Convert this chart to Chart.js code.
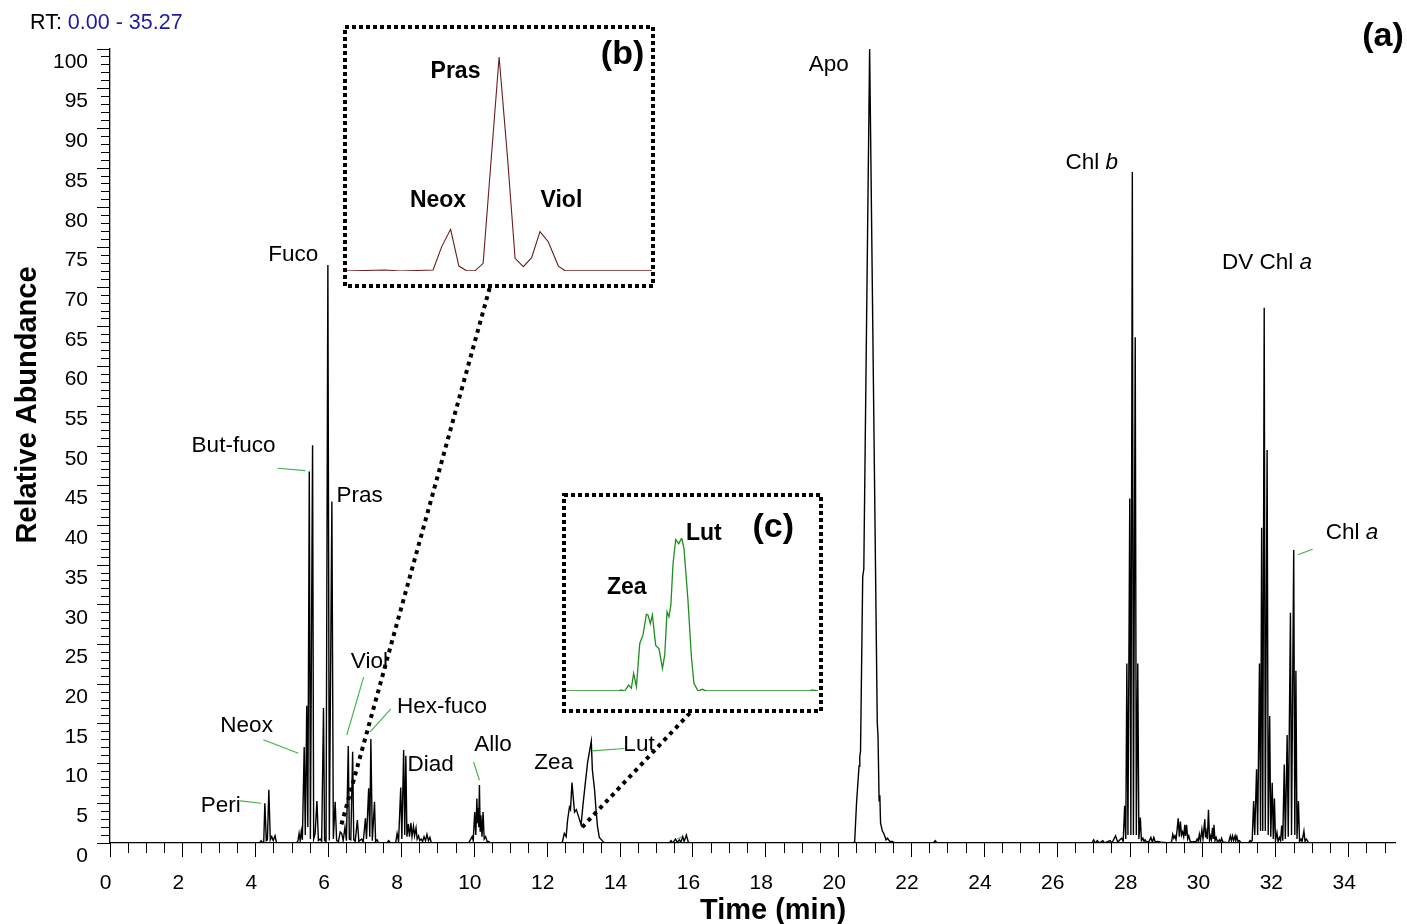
<!DOCTYPE html>
<html><head><meta charset="utf-8">
<script src="https://cdn.jsdelivr.net/npm/chart.js@4.4.1/dist/chart.umd.min.js"></script>
<style>
html,body{margin:0;padding:0;background:#fff;}
#wrap{position:relative;width:1407px;height:924px;overflow:hidden;background:#fff;}
canvas{position:absolute;}
</style></head><body>
<div id="wrap">
<canvas id="main" width="1407" height="924" style="left:0;top:0"></canvas>
<canvas id="insetB"></canvas>
<canvas id="insetC"></canvas>
</div>
<script>
// ---------------- DATA ----------------
// Main chromatogram: [retention time (min), relative abundance (%)]
const segLeadIn = [[0,0],[4.10,0],[4.15,0.3],[4.19,0]];
const segPeri = [[4.22,0.2],[4.25,5.0],[4.29,0.3],[4.32,0.4],[4.36,6.7],[4.40,0.4],[4.44,0.8],[4.48,0.3],[4.53,0.9],[4.57,0],[5.12,0]];
const segNeoxFucoPras = [[5.16,0.3],[5.19,1.2],[5.22,0.3],[5.25,1.5],[5.28,0.4],[5.33,12.1],[5.36,1.0],[5.40,17.3],[5.43,2.0],[5.47,46.8],[5.50,0.5],[5.56,50.1],[5.59,0.5],[5.63,1.2],[5.68,5.3],[5.72,0.3],[5.77,0.5],[5.81,0.2],[5.86,17.0],[5.89,0.3],[5.93,0.2],[5.98,72.8],[6.02,0.3],[6.09,43.0],[6.13,0.5],[6.18,5.2],[6.22,0.3],[6.27,0.2],[6.32,1.4],[6.36,1.2],[6.40,0.3],[6.45,2.0],[6.49,0.3]];
const segViolHex = [[6.54,12.2],[6.57,0.5],[6.61,0.4],[6.66,11.5],[6.69,0.4],[6.73,0.2],[6.79,2.9],[6.83,0.2],[6.91,0.5],[6.95,0.1],[7.01,3.1],[7.04,0.5],[7.10,6.9],[7.13,0.8],[7.16,13.1],[7.20,0.3],[7.26,5.2],[7.29,0.2],[7.33,0.4],[7.37,0],[7.60,0],[7.65,0.3],[7.70,0]];
const segDiad = [[7.84,0],[7.88,1.2],[7.92,0.2],[7.98,7.0],[8.01,0.5],[8.06,11.7],[8.09,1.0],[8.12,11.0],[8.15,0.8],[8.19,2.4],[8.22,0.8],[8.26,2.5],[8.29,0.8],[8.33,2.1],[8.36,0.9],[8.40,1.9],[8.43,0.5],[8.47,0.9],[8.50,0.3],[8.54,0.5],[8.58,0.2],[8.62,0.8],[8.66,0.3],[8.70,1.1],[8.74,0.3],[8.78,0.7],[8.82,0],[9.84,0]];
const segAllo = [[9.88,0.3],[9.94,0.8],[9.97,0.3],[10.01,3.9],[10.04,1.0],[10.07,5.6],[10.09,2.5],[10.11,4.4],[10.12,2.0],[10.14,7.3],[10.16,1.5],[10.18,3.5],[10.21,0.8],[10.24,3.9],[10.27,0.5],[10.31,0.8],[10.35,0.2],[10.39,0.2],[10.45,0],[12.38,0]];
const segZeaLut = [[12.41,0],[12.47,1.2],[12.52,0.8],[12.56,2.9],[12.61,4.5],[12.64,4.2],[12.68,7.6],[12.75,3.9],[12.80,4.2],[12.87,3.2],[12.93,2.3],[12.98,4.7],[13.05,7.7],[13.11,10.2],[13.16,11.5],[13.21,12.8],[13.24,9.2],[13.30,6.7],[13.34,4.2],[13.38,2.1],[13.43,0.7],[13.51,0.3],[13.57,0],[15.35,0]];
const segMinor16 = [[15.40,0.3],[15.45,0],[15.52,0.5],[15.57,0.1],[15.63,0.4],[15.67,0.1],[15.72,0.8],[15.76,0.2],[15.82,1.0],[15.88,0],[20.40,0]];
const segApo = [[20.44,0.2],[20.49,5.0],[20.56,9.7],[20.58,10.9],[20.60,11.5],[20.66,33.5],[20.69,34.5],[20.85,100],[21.06,15.1],[21.08,13.5],[21.11,5.3],[21.13,6.0],[21.15,2.5],[21.20,1.5],[21.24,1.2],[21.30,0.4],[21.34,0.6],[21.40,0.2],[21.47,0.2],[21.55,0],[22.60,0],[22.65,0.3],[22.70,0],[26.95,0]];
const segChlb = [[27.00,0.4],[27.04,0],[27.10,0.3],[27.15,0],[27.25,0.3],[27.30,0],[27.45,0.3],[27.50,0],[27.60,0.9],[27.66,0.1],[27.72,0.4],[27.77,0.6],[27.81,0.2],[27.85,4.7],[27.88,0.5],[27.91,22.6],[27.94,1.0],[27.99,43.4],[28.02,1.0],[28.06,84.5],[28.09,1.0],[28.14,63.7],[28.17,1.0],[28.21,22.6],[28.24,0.5],[28.28,3.2],[28.31,0.3],[28.35,0.6],[28.38,0.2],[28.41,0.4],[28.45,0.1],[28.52,0.2],[28.57,0.7],[28.61,0.1],[28.65,0.7],[28.69,0.1],[28.75,0.2],[28.85,0.1],[29.10,0]];
const segMid29to31 = [[29.14,0.2],[29.17,1.1],[29.20,0.6],[29.23,0.9],[29.26,0.4],[29.32,3.1],[29.35,0.8],[29.38,2.7],[29.41,1.0],[29.44,1.4],[29.47,0.8],[29.50,2.3],[29.52,0.9],[29.55,2.3],[29.58,0.5],[29.61,0.9],[29.65,0.2],[29.70,0.1],[29.75,0.2],[29.80,0.1],[29.84,0.5],[29.87,0.2],[29.90,1.1],[29.93,0.3],[29.97,1.7],[30.00,0.5],[30.05,3.0],[30.07,0.7],[30.09,1.4],[30.12,0.5],[30.15,4.2],[30.18,0.4],[30.20,0.9],[30.23,0.4],[30.26,1.9],[30.28,0.6],[30.30,2.3],[30.33,0.3],[30.36,0.7],[30.40,0.1],[30.45,0.4],[30.48,0.1],[30.51,0.6],[30.55,0.1],[30.60,0.1],[30.70,0],[30.75,0.9],[30.78,0.3],[30.81,0.9],[30.84,0.3],[30.88,0.9],[30.90,0.3],[30.93,0.8],[30.96,0.2],[31.00,0.3],[31.05,0],[31.25,0]];
const segDVChlaChla = [[31.29,0.3],[31.32,0.2],[31.35,0.3],[31.39,5.3],[31.42,1.0],[31.47,9.3],[31.50,1.0],[31.55,22.6],[31.58,1.5],[31.61,39.7],[31.64,1.5],[31.68,67.4],[31.71,1.5],[31.76,49.5],[31.79,1.0],[31.83,16.0],[31.86,0.8],[31.90,7.6],[31.93,0.5],[31.96,5.6],[31.99,0.3],[32.03,1.3],[32.06,0.2],[32.10,0.7],[32.13,0.3],[32.16,2.2],[32.19,0.3],[32.23,9.9],[32.26,0.5],[32.31,13.6],[32.34,0.8],[32.40,29.0],[32.43,1.0],[32.49,36.9],[32.52,1.0],[32.55,21.7],[32.58,0.5],[32.62,5.3],[32.65,0.2],[32.69,0.5],[32.72,0.2],[32.77,1.5],[32.80,0.2],[32.84,0.5],[32.90,0],[35.27,0]];

// Inset (b): expanded trace around Neox / Pras / Viol
const insetBTime   = [6.000,6.130,6.179,6.287,6.315,6.344,6.371,6.396,6.423,6.450,6.477,6.502,6.530,6.554,6.581,6.608,6.635,6.662,6.695,6.717,7.000];
const insetBSignal = [0,0.5,0,0.5,11.4,19.5,2.3,0.1,0.1,3.6,53.7,100,51.9,5.9,2.0,6.2,18.4,13.7,2.3,0.1,0.1];
// Inset (c): expanded trace around Zea / Lut
const insetCTime   = [12.000,12.431,12.458,12.484,12.515,12.536,12.554,12.576,12.602,12.627,12.654,12.667,12.685,12.701,12.727,12.753,12.780,12.798,12.816,12.831,12.846,12.863,12.884,12.908,12.931,12.949,12.980,13.007,13.027,13.059,13.093,13.125,13.935,13.953,14.000];
const insetCSignal = [0,0,0.7,0,3.9,1.8,11.5,2.8,31.1,36.5,50.2,49.6,44.1,49.6,29.8,27.6,14.8,23.5,51.7,48.5,56.1,83.3,99.0,96.3,100,93.1,59.4,22.4,5.0,0,1.1,0,0,0.7,0];

// Axis ranges & tick labels
const rtRange = [0, 35.27];
const abundanceRange = [0, 100];
const xTickLabels = [0,2,4,6,8,10,12,14,16,18,20,22,24,26,28,30,32,34];
const yTickLabels = [0,5,10,15,20,25,30,35,40,45,50,55,60,65,70,75,80,85,90,95,100];
const xMinorStep = 0.5, yMinorStep = 1;

// Peak labels (text parts: [string, italic?]) anchored at (time, abundance)
const peakLabels = [
  {parts:[['Apo',false]], t:19.73, v:98.0},
  {parts:[['Chl ',false],['b',true]], t:26.95, v:85.7},
  {parts:[['DV Chl ',false],['a',true]], t:31.76, v:73.1},
  {parts:[['Chl ',false],['a',true]], t:34.09, v:39.1},
  {parts:[['Fuco',false]], t:5.03, v:74.1},
  {parts:[['But-fuco',false]], t:3.39, v:50.0},
  {parts:[['Pras',false]], t:6.85, v:43.7},
  {parts:[['Viol',false]], t:7.12, v:22.8},
  {parts:[['Hex-fuco',false]], t:9.11, v:17.2},
  {parts:[['Neox',false]], t:3.75, v:14.8},
  {parts:[['Peri',false]], t:3.04, v:4.7},
  {parts:[['Diad',false]], t:8.80, v:9.8},
  {parts:[['Allo',false]], t:10.51, v:12.4},
  {parts:[['Zea',false]], t:12.18, v:10.1},
  {parts:[['Lut',false]], t:14.52, v:12.4}
];
// Green leader lines [t1,v1,t2,v2]
const leaders = [
  [3.57,5.3,4.15,5.0],[4.21,13.0,5.17,11.3],[4.61,47.2,5.36,46.9],[6.96,20.9,6.50,13.6],
  [7.71,16.9,7.14,14.0],[9.98,10.2,10.14,7.9],[13.23,11.6,14.12,11.9],[15.57,0.5,15.70,0.8],
  [32.60,36.3,33.01,37.0]
];

// ---------------- LAYOUT / STYLE ----------------
const FONT = '"Liberation Sans", Arial, Helvetica, sans-serif';
const GREEN = '#3fb24a';
const boxB = {left:343, top:25, w:312, h:263, pad:{left:2, right:3, top:32, bottom:17}};
const boxC = {left:562, top:493, w:261, h:220, pad:{left:1, right:5, top:45, bottom:22}};
// connectors: inset anchor (fraction of box width at bottom) -> data point
const connectors = [
  {box:boxB, fx:0.47, t:6.32, v:1.8},
  {box:boxC, fx:0.49, t:12.96, v:2.0}
];

function stepTicks(min, max, step){ const out=[]; for(let v=min; v<=max+1e-9; v+=step) out.push({value:Math.round(v*1000)/1000}); return out; }

function drawParts(ctx, parts, cx, cy, size, bold){
  let total = 0;
  const widths = parts.map(([s,it])=>{ ctx.font = `${it?'italic ':''}${bold?'bold ':''}${size}px ${FONT}`; const w = ctx.measureText(s).width; total += w; return w; });
  let x = cx - total/2;
  parts.forEach(([s,it],i)=>{ ctx.font = `${it?'italic ':''}${bold?'bold ':''}${size}px ${FONT}`; ctx.textAlign='left'; ctx.fillText(s, x, cy); x += widths[i]; });
}

const mainAnnotations = {
  id:'mainAnnotations',
  afterDraw(chart){
    const {ctx, scales:{x, y}} = chart;
    ctx.save();
    // RT header
    ctx.textBaseline='middle'; ctx.textAlign='left';
    ctx.font = `21.5px ${FONT}`;
    ctx.fillStyle='#000'; ctx.fillText('RT: ', 30, 23);
    const w = ctx.measureText('RT: ').width;
    ctx.fillStyle='#1c1c9c'; ctx.fillText(`${rtRange[0].toFixed(2)} - ${rtRange[1].toFixed(2)}`, 30+w, 23);
    // (a)
    ctx.fillStyle='#000'; ctx.font = `bold 34px ${FONT}`; ctx.textAlign='center';
    ctx.fillText('(a)', 1383, 37);
    // Axis titles
    ctx.font = `bold 29px ${FONT}`; ctx.textBaseline='alphabetic';
    ctx.fillText('Time (min)', 773, 919);
    ctx.save(); ctx.translate(36, 405); ctx.rotate(-Math.PI/2); ctx.fillText('Relative Abundance', 0, 0); ctx.restore();
    // leaders
    ctx.strokeStyle = GREEN; ctx.lineWidth = 1.1;
    leaders.forEach(([t1,v1,t2,v2])=>{ ctx.beginPath(); ctx.moveTo(x.getPixelForValue(t1), y.getPixelForValue(v1)); ctx.lineTo(x.getPixelForValue(t2), y.getPixelForValue(v2)); ctx.stroke(); });
    // peak labels
    ctx.fillStyle='#000'; ctx.textBaseline='middle';
    peakLabels.forEach(l => drawParts(ctx, l.parts, x.getPixelForValue(l.t), y.getPixelForValue(l.v), 22.5, false));
    // dotted connectors
    ctx.strokeStyle='#000'; ctx.lineWidth=4; ctx.setLineDash([4,4.5]);
    connectors.forEach(c=>{ ctx.beginPath(); ctx.moveTo(c.box.left + c.fx*c.box.w, c.box.top + c.box.h); ctx.lineTo(x.getPixelForValue(c.t), y.getPixelForValue(c.v)); ctx.stroke(); });
    ctx.restore();
  }
};

const tickFont = {family: FONT, size: 21};
new Chart(document.getElementById('main'), {
  type:'line',
  data:{ datasets:[{
    data: [].concat(segLeadIn, segPeri, segNeoxFucoPras, segViolHex, segDiad, segAllo, segZeaLut, segMinor16, segApo, segChlb, segMid29to31, segDVChlaChla).map(([t,v])=>({x:t, y:v})),
    borderColor:'#000', borderWidth:1.4, pointRadius:0, tension:0, fill:false, xAxisID:'x', yAxisID:'y'
  }]},
  options:{
    responsive:false, animation:false, events:[],
    layout:{padding:{top:49, right:12, left:0, bottom:0}},
    plugins:{legend:{display:false}, tooltip:{enabled:false}},
    scales:{
      x:{ type:'linear', position:'bottom', weight:1, min:rtRange[0], max:rtRange[1],
        afterFit: s => { s.height = 81; },
        afterBuildTicks: s => { s.ticks = xTickLabels.map(v=>({value:v})); },
        ticks:{ autoSkip:false, maxRotation:0, minRotation:0, padding:14, labelOffset:-4.5, color:'#000', font:tickFont, callback: v => String(v) },
        grid:{ drawOnChartArea:false, drawTicks:true, tickLength:14, tickColor:'#000', tickWidth:1 },
        border:{ display:true, color:'#000', width:1.3 } },
      xMinor:{ type:'linear', position:'bottom', weight:0, min:rtRange[0], max:rtRange[1],
        afterFit: s => { s.height = 0; },
        afterBuildTicks: s => { s.ticks = stepTicks(0, 35, xMinorStep); },
        ticks:{ display:false },
        grid:{ drawOnChartArea:false, drawTicks:true, tickLength:10, tickColor:'#000', tickWidth:1 },
        border:{ display:false } },
      y:{ type:'linear', position:'left', weight:1, min:abundanceRange[0], max:abundanceRange[1],
        afterFit: s => { s.width = 110; },
        afterBuildTicks: s => { s.ticks = yTickLabels.map(v=>({value:v})); },
        ticks:{ autoSkip:false, padding:9, labelOffset:13, color:'#000', font:tickFont, callback: v => String(v) },
        grid:{ drawOnChartArea:false, drawTicks:true, tickLength:13, tickColor:'#000', tickWidth:1 },
        border:{ display:true, color:'#000', width:1.3 } },
      yMinor:{ type:'linear', position:'left', weight:0, min:abundanceRange[0], max:abundanceRange[1],
        afterFit: s => { s.width = 0; },
        afterBuildTicks: s => { s.ticks = stepTicks(0, 100, yMinorStep); },
        ticks:{ display:false },
        grid:{ drawOnChartArea:false, drawTicks:true, tickLength:9, tickColor:'#000', tickWidth:1 },
        border:{ display:false } }
    }
  },
  plugins:[mainAnnotations]
});

// ---------------- INSETS ----------------
function makeInset(id, box, times, signal, color, width, labels, tag){
  const cv = document.getElementById(id);
  cv.width = box.w; cv.height = box.h;
  cv.style.left = box.left+'px'; cv.style.top = box.top+'px'; cv.style.background = '#fff';
  const deco = {
    id:'deco_'+id,
    afterDraw(chart){
      const {ctx, scales:{x,y}} = chart;
      ctx.save();
      ctx.strokeStyle='#000'; ctx.lineWidth=4; ctx.setLineDash([4,3]);
      ctx.strokeRect(2,2,box.w-4,box.h-4);
      ctx.setLineDash([]);
      ctx.fillStyle='#000'; ctx.textBaseline='middle';
      labels.forEach(l => drawParts(ctx, [[l.text,false]], x.getPixelForValue(l.t), y.getPixelForValue(l.v), 23, true));
      drawParts(ctx, [[tag.text,false]], x.getPixelForValue(tag.t), y.getPixelForValue(tag.v), 34, true);
      ctx.restore();
    }
  };
  new Chart(cv, {
    type:'line',
    data:{ datasets:[{ data: times.map((t,i)=>({x:t, y:signal[i]})), borderColor:color, borderWidth:width, pointRadius:0, tension:0, fill:false }]},
    options:{
      responsive:false, animation:false, events:[],
      layout:{padding:box.pad},
      plugins:{legend:{display:false}, tooltip:{enabled:false}},
      scales:{ x:{type:'linear', display:false, min:times[0], max:times[times.length-1]}, y:{type:'linear', display:false, min:0, max:100} }
    },
    plugins:[deco]
  });
}
makeInset('insetB', boxB, insetBTime, insetBSignal, '#6b1c1c', 1.1,
  [{text:'Pras', t:6.360, v:93.0},{text:'Neox', t:6.303, v:32.7},{text:'Viol', t:6.705, v:32.7}],
  {text:'(b)', t:6.904, v:100.9});
makeInset('insetC', boxC, insetCTime, insetCSignal, '#1f8f1f', 1.3,
  [{text:'Zea', t:12.500, v:67.8},{text:'Lut', t:13.104, v:103.1}],
  {text:'(c)', t:13.649, v:107.0});
</script>
</body></html>
